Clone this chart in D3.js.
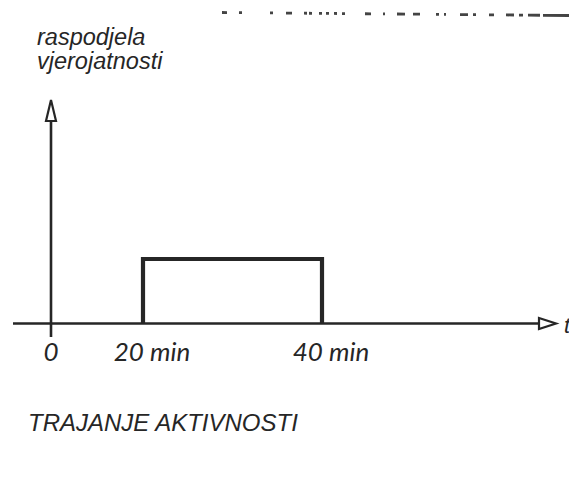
<!DOCTYPE html>
<html>
<head>
<meta charset="utf-8">
<script src="https://cdn.jsdelivr.net/npm/d3@7"></script>
<style>
  body { margin: 0; background: #fff; }
  svg { display: block; }
</style>
</head>
<body>
<div id="chart"></div>
<script>
var svgwidth = 569;
var svgheight = 477;

// uniform distribution of the activity duration, 20..40 min
var tickValues = [0, 20, 40];
var tickLabels = ["0", "20 min", "40 min"];
var intervalStart = [20];
var intervalEnd = [40];
var density = [0.05];           // 1 / (40 - 20)
var yLabelLines = ["raspodjela", "vjerojatnosti"];
var xLabel = "t";
var title = "TRAJANJE AKTIVNOSTI";

var ink = "#262626";

var svg = d3.select("#chart")
            .append("svg")
            .attr("width", svgwidth)
            .attr("height", svgheight);

// sketch is not drawn to scale, so the x scale is piecewise
var xscale = d3.scaleLinear()
                .domain([0, 20, 40])
                .range([51, 143, 322]);

var yscale = d3.scaleLinear()
                .domain([0, 0.05])
                .range([323, 259]);

// scanner noise along the top edge
svg.append("line")
    .attr("x1", 222).attr("y1", 12.5)
    .attr("x2", 569).attr("y2", 15.5)
    .attr("stroke", "#444")
    .attr("stroke-width", 2.8)
    .attr("stroke-dasharray", "5,12 3,28 3,13 6,12 3,2 3,7 3,4 3,5 3,5 3,20 6,12 2,12 8,8 7,16 3,5 2,14 8,5 3,13 5,12 8,5 4");

// x axis
svg.append("line")
    .attr("x1", 13).attr("y1", 323.5)
    .attr("x2", 540).attr("y2", 323.5)
    .attr("stroke", ink)
    .attr("stroke-width", 2.6);

svg.append("path")
    .attr("d", "M539,318 L556,323.5 L539,329 Z")
    .attr("fill", "#fff")
    .attr("stroke", ink)
    .attr("stroke-width", 2.2)
    .attr("stroke-linejoin", "miter");

// y axis
svg.append("line")
    .attr("x1", 51).attr("y1", 337)
    .attr("x2", 51).attr("y2", 121)
    .attr("stroke", ink)
    .attr("stroke-width", 2.6);

svg.append("path")
    .attr("d", "M51,100 L46,121 L56,121 Z")
    .attr("fill", "#fff")
    .attr("stroke", ink)
    .attr("stroke-width", 2.2);

// the rectangle of the distribution
svg.append("g")
    .selectAll("path")
    .data(density)
    .join("path")
    .attr("d", function(d, i) {
        return "M" + xscale(intervalStart[i]) + "," + yscale(0) +
               "V" + yscale(d) +
               "H" + xscale(intervalEnd[i]) +
               "V" + yscale(0);
    })
    .attr("fill", "none")
    .attr("stroke", ink)
    .attr("stroke-width", 4.2);

// tick labels
svg.append("g")
    .selectAll("text")
    .data(tickValues)
    .join("text")
    .attr("x", function(d) { return xscale(d) + (d ? 9 : 0); })
    .attr("y", 361)
    .attr("text-anchor", "middle")
    .style("font-family", "Lato")
    .style("font-style", "italic")
    .style("font-size", "26px")
    .attr("fill", ink)
    .text(function(d, i) { return tickLabels[i]; });

// axis labels
svg.append("g")
    .selectAll("text")
    .data(yLabelLines)
    .join("text")
    .attr("x", 37)
    .attr("y", function(d, i) { return 45 + i * 24; })
    .style("font-family", "Liberation Sans")
    .style("font-style", "italic")
    .style("font-size", "23.5px")
    .attr("fill", ink)
    .text(function(d) { return d; });

svg.append("text")
    .attr("x", 564)
    .attr("y", 333)
    .style("font-family", "Liberation Sans")
    .style("font-style", "italic")
    .style("font-size", "22px")
    .attr("fill", ink)
    .text(xLabel);

svg.append("text")
    .attr("x", 28)
    .attr("y", 431)
    .style("font-family", "Liberation Sans")
    .style("font-style", "italic")
    .style("font-size", "24px")
    .attr("fill", ink)
    .text(title);
</script>
</body>
</html>
